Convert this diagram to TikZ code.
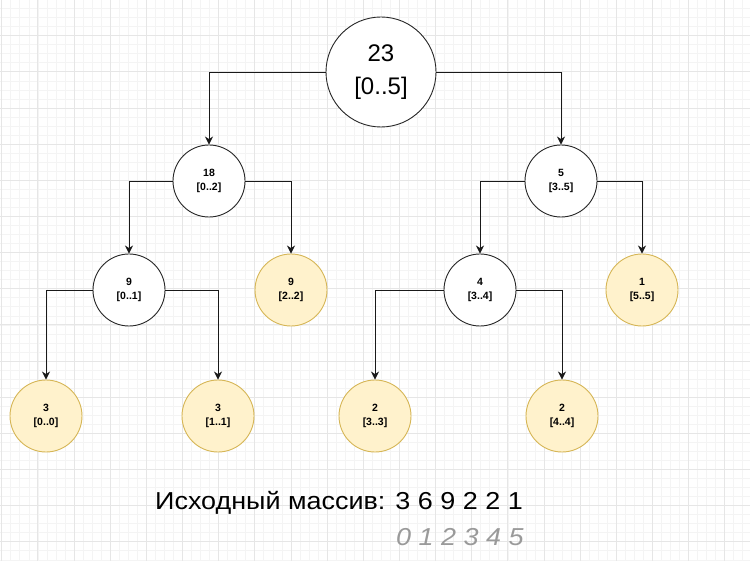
\documentclass[tikz,border=0pt]{standalone}
\usepackage{fontspec}
\setmainfont{Liberation Sans}
\newfontfamily\widesans[FakeStretch=1.1]{Liberation Sans}
\usetikzlibrary{arrows.meta}
\definecolor{gridminor}{HTML}{F4F4F4}
\definecolor{gridmajor}{HTML}{E6E6E6}
\definecolor{leaffill}{HTML}{FFF2CC}
\definecolor{leafdraw}{HTML}{D6B656}
\definecolor{idxgray}{HTML}{9A9A9A}
\tikzset{
  treenode/.style={circle, draw=black!85, line width=0.9pt, fill=white, minimum size=72pt, inner sep=0pt, align=center, font=\fontsize{10.5}{13.5}\selectfont\bfseries},
  leafnode/.style={treenode, fill=leaffill, draw=leafdraw},
  rootnode/.style={treenode, minimum size=110pt, font=\fontsize{24}{33}\selectfont\mdseries},
  arr/.style={draw=black!90, line width=0.9pt, -{Stealth[length=8pt,width=8pt,inset=2.5pt]}},
  caption/.style={anchor=base west, inner sep=0pt, font=\widesans\fontsize{24.5}{28}\selectfont},
  indexrow/.style={anchor=base west, inner sep=0pt, text=idxgray, font=\widesans\fontsize{24.5}{28}\selectfont\itshape},
}
\begin{document}
\begin{tikzpicture}[x=1pt,y=-1pt]
\fill[white] (0,0) rectangle (750,561);
\useasboundingbox (0,0) rectangle (750,561);
% grid
\foreach \k in {0,...,83} {
  \draw[gridminor, line width=0.6pt] ({1.7+9.0375*\k},0) -- ({1.7+9.0375*\k},561);
}
\foreach \k in {0,...,62} {
  \draw[gridminor, line width=0.6pt] (0,{-0.5+9.0375*\k}) -- (750,{-0.5+9.0375*\k});
}
\foreach \k in {0,...,20} {
  \draw[gridmajor, line width=0.8pt] ({1.7+36.15*\k},0) -- ({1.7+36.15*\k},561);
}
\foreach \k in {1,...,15} {
  \draw[gridmajor, line width=0.8pt] (0,{-0.5+36.15*\k}) -- (750,{-0.5+36.15*\k});
}
% nodes
\node[rootnode] (root) at (381,72) {23\\{[}0..5{]}};
\node[treenode] (n18) at (209,181) {18\\{[}0..2{]}};
\node[treenode] (n5) at (561,181) {5\\{[}3..5{]}};
\node[treenode] (n9a) at (129,290) {9\\{[}0..1{]}};
\node[leafnode] (n9b) at (291,290) {9\\{[}2..2{]}};
\node[treenode] (n4) at (480,290) {4\\{[}3..4{]}};
\node[leafnode] (n1) at (642,290) {1\\{[}5..5{]}};
\node[leafnode] (n3a) at (46,416) {3\\{[}0..0{]}};
\node[leafnode] (n3b) at (218,416) {3\\{[}1..1{]}};
\node[leafnode] (n2a) at (375,416) {2\\{[}3..3{]}};
\node[leafnode] (n2b) at (562,416) {2\\{[}4..4{]}};
% edges
\draw[arr] (root.west) -| (n18.north);
\draw[arr] (root.east) -| (n5.north);
\draw[arr] (n18.west) -| (n9a.north);
\draw[arr] (n18.east) -| (n9b.north);
\draw[arr] (n5.west) -| (n4.north);
\draw[arr] (n5.east) -| (n1.north);
\draw[arr] (n9a.west) -| (n3a.north);
\draw[arr] (n9a.east) -| (n3b.north);
\draw[arr] (n4.west) -| (n2a.north);
\draw[arr] (n4.east) -| (n2b.north);
% texts
\node[caption] (src) at (155,509) {Исходный массив: 3 6 9 2 2 1};
\node[indexrow] (idx) at (396,545) {0 1 2 3 4 5};
\end{tikzpicture}
\end{document}
